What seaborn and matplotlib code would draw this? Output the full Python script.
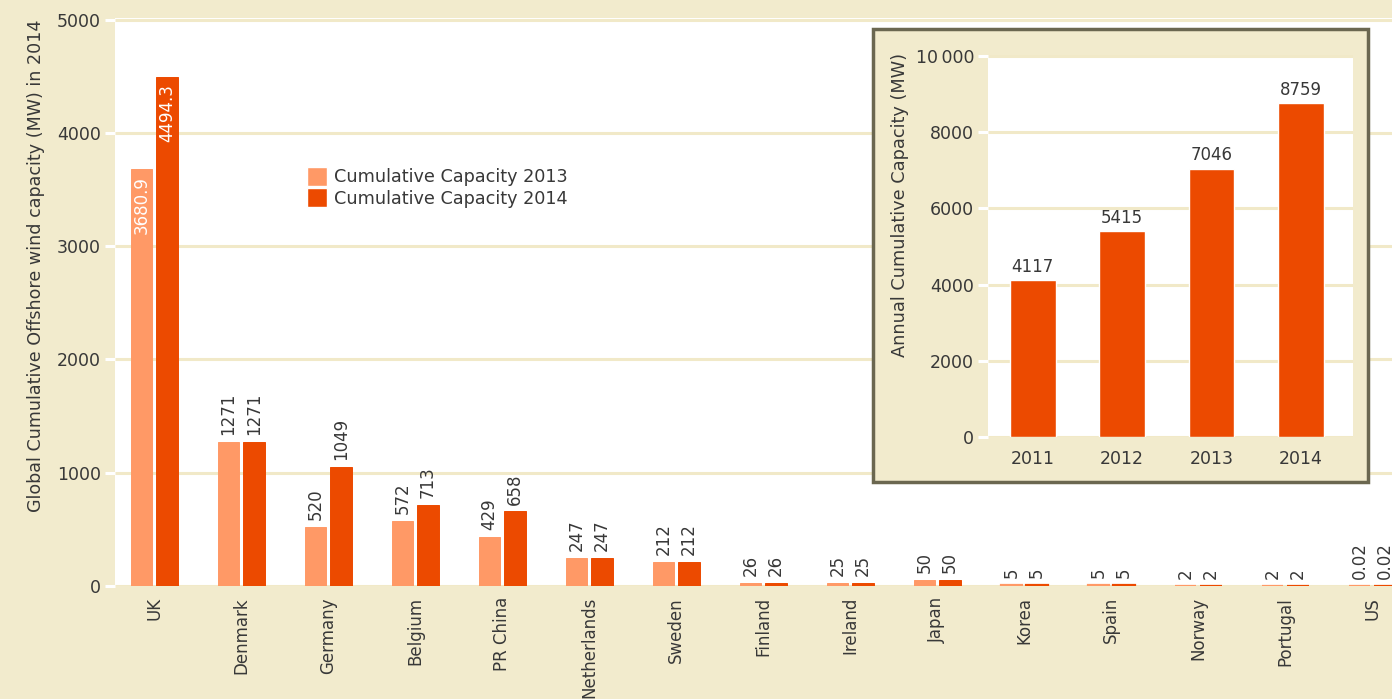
import matplotlib
matplotlib.use("Agg")
import matplotlib.pyplot as plt
from matplotlib.patches import Rectangle
import seaborn as sns
import pandas as pd

# Offshore wind capacity by country (MW)
countries = ["UK", "Denmark", "Germany", "Belgium", "PR China", "Netherlands",
             "Sweden", "Finland", "Ireland", "Japan", "Korea", "Spain",
             "Norway", "Portugal", "US"]
cap_2013 = [3680.9, 1271, 520, 572, 429, 247, 212, 26, 25, 50, 5, 5, 2, 2, 0.02]
cap_2014 = [4494.3, 1271, 1049, 713, 658, 247, 212, 26, 25, 50, 5, 5, 2, 2, 0.02]
series_names = ["Cumulative Capacity 2013", "Cumulative Capacity 2014"]

# Global annual cumulative capacity (MW)
years = ["2011", "2012", "2013", "2014"]
annual_total = [4117, 5415, 7046, 8759]

CREAM = "#F2EBCD"
GRID = "#F1E9C8"
LIGHT = "#FF9966"
DARK = "#EC4A00"
TEXT = "#383838"
FRAME = "#6B6750"

sns.set_theme(style="white")
plt.rcParams["font.family"] = ["DejaVu Sans"]
plt.rcParams["text.color"] = TEXT
plt.rcParams["axes.labelcolor"] = TEXT
plt.rcParams["xtick.color"] = TEXT
plt.rcParams["ytick.color"] = TEXT

W, H = 1392, 699
fig = plt.figure(figsize=(W / 100, H / 100), dpi=100, facecolor=CREAM)

# ---- main chart -------------------------------------------------------
left, right, top, bottom = 115, 1420, 18, 586
ax = fig.add_axes([left / W, (H - bottom) / H, (right - left) / W, (bottom - top) / H])
ax.set_facecolor("white")

df = pd.DataFrame({
    "country": countries * 2,
    "value": cap_2013 + cap_2014,
    "series": [series_names[0]] * len(countries) + [series_names[1]] * len(countries),
})
sns.barplot(data=df, x="country", y="value", hue="series", order=countries,
            hue_order=series_names, palette=[LIGHT, DARK], saturation=1,
            width=0.58, gap=0.14, ax=ax, zorder=3)

# outline in the bar's own colour; a heavier one keeps the tiny values visible
for cont in ax.containers:
    for p in cont.patches:
        p.set_edgecolor(p.get_facecolor())
        p.set_linewidth(1.6 if p.get_height() < 10 else 0.7)

ax.set_xlim(-0.45, 14.55)
ax.set_ylim(0, 5015)
ax.set_yticks([0, 1000, 2000, 3000, 4000, 5000])
ax.yaxis.grid(True, color=GRID, linewidth=2.2, zorder=0)
ax.set_axisbelow(True)
for s in ax.spines.values():
    s.set_visible(False)
ax.tick_params(axis="y", left=True, length=7, width=2.2, color="white",
               labelsize=12.5, pad=3)
ax.tick_params(axis="x", bottom=False, labelsize=12, pad=2)
plt.setp(ax.get_xticklabels(), rotation=90, va="top", ha="center")
ax.set_xlabel("")
ax.set_ylabel("Global Cumulative Offshore wind capacity (MW) in 2014", fontsize=12.6)
ax.yaxis.set_label_coords(-0.054, 0.563)

# value labels on each bar
for cont, vals in zip(ax.containers, [cap_2013, cap_2014]):
    for p, v in zip(cont.patches, vals):
        cx = p.get_x() + p.get_width() / 2
        if v > 3000:
            ax.annotate(f"{v:g}", (cx, v), xytext=(0, -5), textcoords="offset points",
                        rotation=90, ha="center", va="top", color="white",
                        fontsize=12, zorder=5)
        else:
            ax.annotate(f"{v:g}", (cx, v), xytext=(0, 5), textcoords="offset points",
                        rotation=90, ha="center", va="bottom", color=TEXT,
                        fontsize=12, zorder=5)

leg = ax.legend(loc="upper left",
                bbox_to_anchor=((300 - left) / (right - left), (bottom - 160) / (bottom - top)),
                frameon=False, fontsize=12.7, handlelength=1.15, handleheight=1.25,
                handletextpad=0.35, labelspacing=0.12, borderaxespad=0)
for t in leg.get_texts():
    t.set_color(TEXT)

# ---- inset chart ------------------------------------------------------
frame = Rectangle((873 / W, (H - 482) / H), (1368 - 873) / W, (482 - 29) / H,
                  transform=fig.transFigure, facecolor=CREAM, edgecolor=FRAME,
                  linewidth=2.5, zorder=1)
fig.patches.append(frame)

il, ir, it, ib = 988, 1353, 55, 437
ax2 = fig.add_axes([il / W, (H - ib) / H, (ir - il) / W, (ib - it) / H], zorder=2)
ax2.set_facecolor("white")
sns.barplot(x=years, y=annual_total, color=DARK, saturation=1, width=0.51,
            ax=ax2, zorder=3)
ax2.set_xlim(-0.5, 3.58)
ax2.set_ylim(0, 10030)
ax2.set_yticks([0, 2000, 4000, 6000, 8000, 10000])
ax2.set_yticklabels(["0", "2000", "4000", "6000", "8000", "10\u2009000"])
ax2.yaxis.grid(True, color=GRID, linewidth=2.2, zorder=0)
ax2.set_axisbelow(True)
for s in ax2.spines.values():
    s.set_visible(False)
ax2.tick_params(axis="y", left=True, length=7, width=2.2, color="white",
                labelsize=12.5, pad=3)
ax2.tick_params(axis="x", bottom=False, labelsize=12.5, pad=3)
ax2.set_ylabel("Annual Cumulative Capacity (MW)", fontsize=12.8)
ax2.yaxis.set_label_coords(-0.216, 0.607)

for p, v in zip(ax2.containers[0].patches, annual_total):
    ax2.annotate(f"{v}", (p.get_x() + p.get_width() / 2, v), xytext=(0, 3),
                 textcoords="offset points", ha="center", va="bottom",
                 color=TEXT, fontsize=12, zorder=5)

fig.savefig("out.png", dpi=100, facecolor=CREAM)
